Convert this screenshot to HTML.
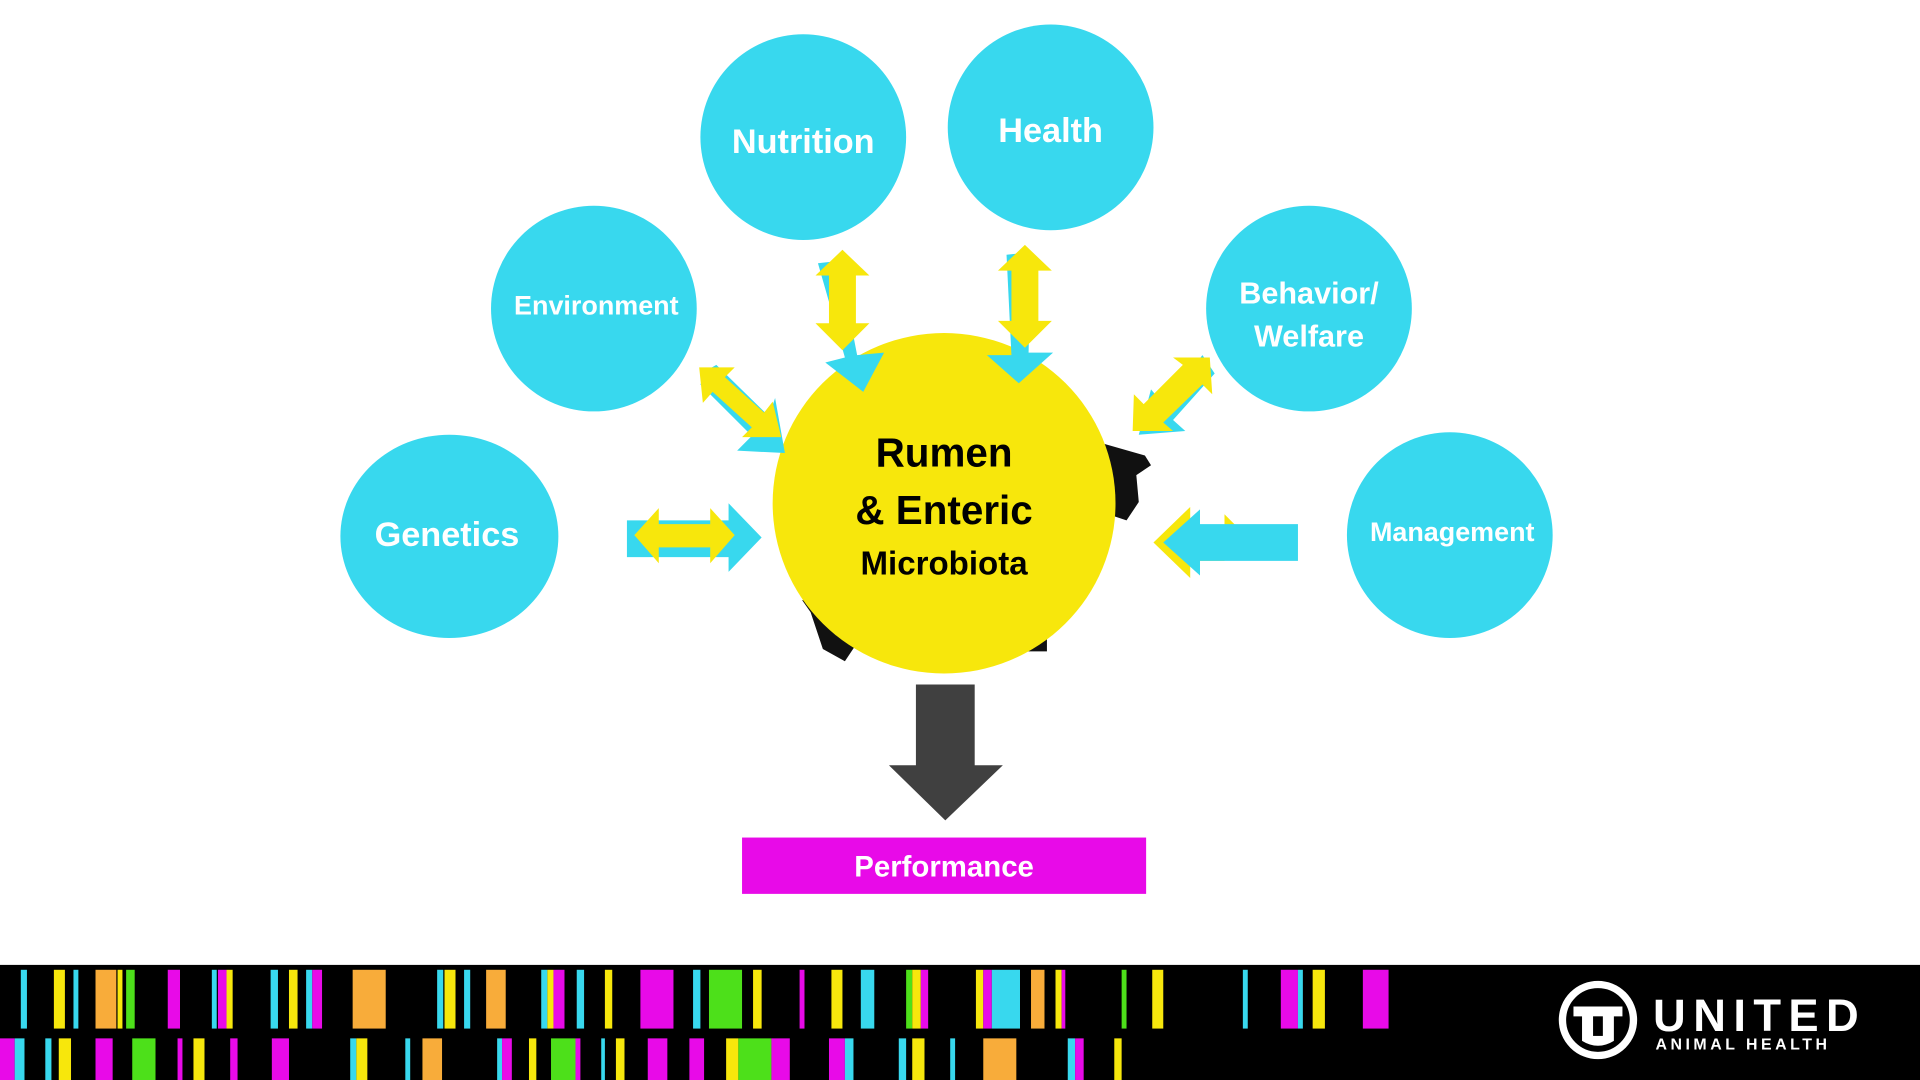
<!DOCTYPE html>
<html><head><meta charset="utf-8"><style>
html,body{margin:0;padding:0;background:#fff;width:1920px;height:1080px;overflow:hidden}
svg{display:block}
text{font-family:"Liberation Sans",sans-serif;font-weight:bold}
</style></head><body>
<svg width="1920" height="1080" viewBox="0 0 1568 882" preserveAspectRatio="none">
<rect width="1568" height="882" fill="#fff"/>
<!-- cow bits -->
<path d="M900 362 L935 372 L940 380 L928 388 L930 410 L920 425 L905 420 Z" fill="#111"/>
<path d="M655 490 L662 500 L672 530 L690 540 L700 525 L690 500 Z" fill="#111"/>
<path d="M830 520 L855 520 L855 532 L830 532Z" fill="#111"/>
<!-- outer circles -->
<g fill="#38d8ee">
<circle cx="656" cy="112" r="84"/>
<circle cx="858" cy="104" r="84"/>
<circle cx="485" cy="252" r="84"/>
<circle cx="1069" cy="252" r="84"/>
<ellipse cx="367" cy="438" rx="89" ry="83"/>
<circle cx="1184" cy="437" r="84"/>
</g>
<g fill="#fff" text-anchor="middle">
<text x="656" y="125" font-size="28">Nutrition</text>
<text x="858" y="116" font-size="28">Health</text>
<text x="487" y="257" font-size="22">Environment</text>
<text x="1069" y="248" font-size="25">Behavior/</text>
<text x="1069" y="283" font-size="25">Welfare</text>
<text x="365" y="446" font-size="28">Genetics</text>
<text x="1186" y="442" font-size="22">Management</text>
</g>
<!-- yellow center -->
<ellipse cx="771" cy="411" rx="140" ry="139" fill="#f7e70c"/>
<g text-anchor="middle" fill="#000">
<text x="771" y="381" font-size="33">Rumen</text>
<text x="771" y="428" font-size="33">&amp; Enteric</text>
<text x="771" y="469" font-size="27">Microbiota</text>
</g>
<!-- arrows: genetics -->
<path d="M512 425 L595 425 L595 411 L622 439 L595 467 L595 455 L512 455Z" fill="#38d8ee"/>
<path d="M518 437 L538 415 L538 428 L580 428 L580 415 L600 437 L580 460 L580 447 L538 447 L538 460Z" fill="#f7e70c"/>
<!-- management -->
<path d="M942 443 L972 414 L972 430 L1000 430 L1000 420 L1012 432 L1000 458 L972 458 L972 472Z" fill="#f7e70c"/>
<path d="M1060 428 L980 428 L980 416 L950 443 L980 470 L980 458 L1060 458Z" fill="#38d8ee"/>
<!-- nutrition -->
<path d="M668 215 L685 213 L700 290 L722 288 L705 320 L674 296 L690 292Z" fill="#38d8ee"/>
<path d="M688 204 L710 225 L699 225 L699 264 L710 264 L688 286 L666 264 L677 264 L677 225 L666 225Z" fill="#f7e70c"/>
<!-- health -->
<path d="M822 208 L842 206 L840 288 L860 288 L832 313 L806 290 L826 290Z" fill="#38d8ee"/>
<path d="M837 200 L859 221 L848 221 L848 262 L859 262 L837 284 L815 262 L826 262 L826 221 L815 221Z" fill="#f7e70c"/>
<!-- environment -->
<path d="M578 302 L585 298 L628 340 L633 325 L641 370 L602 368 L614 356 L572 314Z" fill="#38d8ee"/>
<path d="M571 300 L600 300 L592 308 L624 337 L631 328 L638 357 L606 357 L614 349 L582 320 L574 329Z" fill="#f7e70c"/>
<!-- behavior -->
<path d="M992 305 L982 290 L950 330 L940 318 L930 355 L968 352 L958 343 Z" fill="#38d8ee"/>
<path d="M988 292 L990 322 L982 314 L950 345 L958 352 L925 352 L926 322 L934 330 L966 298 L958 292Z" fill="#f7e70c"/>
<!-- dark arrow -->
<path d="M748 559 L796 559 L796 625 L819 625 L772 670 L726 625 L748 625Z" fill="#404040"/>
<!-- performance -->
<rect x="606" y="684" width="330" height="46" fill="#e80ae8"/>
<text x="771" y="716" font-size="24" fill="#fff" text-anchor="middle">Performance</text>
<!-- bottom bar -->
<rect x="0" y="788" width="1568" height="94" fill="#000"/>
<g>
<rect x="17" y="792" width="5" height="48" fill="#38d8ee"/>
<rect x="44" y="792" width="9" height="48" fill="#f7e70c"/>
<rect x="60" y="792" width="4" height="48" fill="#38d8ee"/>
<rect x="78" y="792" width="17" height="48" fill="#f8ac3a"/>
<rect x="96" y="792" width="4" height="48" fill="#f7e70c"/>
<rect x="103" y="792" width="7" height="48" fill="#4de01a"/>
<rect x="137" y="792" width="10" height="48" fill="#e80ae8"/>
<rect x="173" y="792" width="4" height="48" fill="#38d8ee"/>
<rect x="178" y="792" width="7" height="48" fill="#e80ae8"/>
<rect x="185" y="792" width="5" height="48" fill="#f7e70c"/>
<rect x="221" y="792" width="6" height="48" fill="#38d8ee"/>
<rect x="236" y="792" width="7" height="48" fill="#f7e70c"/>
<rect x="250" y="792" width="5" height="48" fill="#38d8ee"/>
<rect x="255" y="792" width="8" height="48" fill="#e80ae8"/>
<rect x="288" y="792" width="27" height="48" fill="#f8ac3a"/>
<rect x="357" y="792" width="5" height="48" fill="#38d8ee"/>
<rect x="363" y="792" width="9" height="48" fill="#f7e70c"/>
<rect x="379" y="792" width="5" height="48" fill="#38d8ee"/>
<rect x="397" y="792" width="16" height="48" fill="#f8ac3a"/>
<rect x="442" y="792" width="5" height="48" fill="#38d8ee"/>
<rect x="447" y="792" width="5" height="48" fill="#f7e70c"/>
<rect x="452" y="792" width="9" height="48" fill="#e80ae8"/>
<rect x="471" y="792" width="6" height="48" fill="#38d8ee"/>
<rect x="494" y="792" width="6" height="48" fill="#f7e70c"/>
<rect x="523" y="792" width="27" height="48" fill="#e80ae8"/>
<rect x="566" y="792" width="6" height="48" fill="#38d8ee"/>
<rect x="579" y="792" width="27" height="48" fill="#4de01a"/>
<rect x="615" y="792" width="7" height="48" fill="#f7e70c"/>
<rect x="653" y="792" width="4" height="48" fill="#e80ae8"/>
<rect x="679" y="792" width="9" height="48" fill="#f7e70c"/>
<rect x="703" y="792" width="11" height="48" fill="#38d8ee"/>
<rect x="740" y="792" width="5" height="48" fill="#4de01a"/>
<rect x="745" y="792" width="7" height="48" fill="#f7e70c"/>
<rect x="752" y="792" width="6" height="48" fill="#e80ae8"/>
<rect x="797" y="792" width="6" height="48" fill="#f7e70c"/>
<rect x="803" y="792" width="7" height="48" fill="#e80ae8"/>
<rect x="810" y="792" width="23" height="48" fill="#38d8ee"/>
<rect x="842" y="792" width="11" height="48" fill="#f8ac3a"/>
<rect x="862" y="792" width="5" height="48" fill="#f7e70c"/>
<rect x="867" y="792" width="3" height="48" fill="#e80ae8"/>
<rect x="916" y="792" width="4" height="48" fill="#4de01a"/>
<rect x="941" y="792" width="9" height="48" fill="#f7e70c"/>
<rect x="1015" y="792" width="4" height="48" fill="#38d8ee"/>
<rect x="1046" y="792" width="14" height="48" fill="#e80ae8"/>
<rect x="1060" y="792" width="4" height="48" fill="#38d8ee"/>
<rect x="1072" y="792" width="10" height="48" fill="#f7e70c"/>
<rect x="1113" y="792" width="21" height="48" fill="#e80ae8"/>

<rect x="0" y="848" width="12" height="34" fill="#e80ae8"/>
<rect x="12" y="848" width="8" height="34" fill="#38d8ee"/>
<rect x="37" y="848" width="5" height="34" fill="#38d8ee"/>
<rect x="48" y="848" width="10" height="34" fill="#f7e70c"/>
<rect x="78" y="848" width="14" height="34" fill="#e80ae8"/>
<rect x="108" y="848" width="19" height="34" fill="#4de01a"/>
<rect x="145" y="848" width="4" height="34" fill="#e80ae8"/>
<rect x="158" y="848" width="9" height="34" fill="#f7e70c"/>
<rect x="188" y="848" width="6" height="34" fill="#e80ae8"/>
<rect x="222" y="848" width="14" height="34" fill="#e80ae8"/>
<rect x="286" y="848" width="5" height="34" fill="#38d8ee"/>
<rect x="291" y="848" width="9" height="34" fill="#f7e70c"/>
<rect x="331" y="848" width="4" height="34" fill="#38d8ee"/>
<rect x="345" y="848" width="16" height="34" fill="#f8ac3a"/>
<rect x="406" y="848" width="4" height="34" fill="#38d8ee"/>
<rect x="410" y="848" width="8" height="34" fill="#e80ae8"/>
<rect x="432" y="848" width="6" height="34" fill="#f7e70c"/>
<rect x="450" y="848" width="20" height="34" fill="#4de01a"/>
<rect x="470" y="848" width="4" height="34" fill="#e80ae8"/>
<rect x="491" y="848" width="3" height="34" fill="#38d8ee"/>
<rect x="503" y="848" width="7" height="34" fill="#f7e70c"/>
<rect x="529" y="848" width="16" height="34" fill="#e80ae8"/>
<rect x="563" y="848" width="12" height="34" fill="#e80ae8"/>
<rect x="593" y="848" width="10" height="34" fill="#f7e70c"/>
<rect x="603" y="848" width="27" height="34" fill="#4de01a"/>
<rect x="630" y="848" width="15" height="34" fill="#e80ae8"/>
<rect x="677" y="848" width="13" height="34" fill="#e80ae8"/>
<rect x="690" y="848" width="7" height="34" fill="#38d8ee"/>
<rect x="734" y="848" width="6" height="34" fill="#38d8ee"/>
<rect x="745" y="848" width="10" height="34" fill="#f7e70c"/>
<rect x="776" y="848" width="4" height="34" fill="#38d8ee"/>
<rect x="803" y="848" width="27" height="34" fill="#f8ac3a"/>
<rect x="872" y="848" width="6" height="34" fill="#38d8ee"/>
<rect x="878" y="848" width="7" height="34" fill="#e80ae8"/>
<rect x="910" y="848" width="6" height="34" fill="#f7e70c"/>
</g>
<!-- logo -->
<circle cx="1305" cy="833" r="29" fill="none" stroke="#fff" stroke-width="6"/>
<path d="M1285 822 L1325 822 L1325 830 L1318 830 L1318 850 Q1305 858 1292 850 L1292 830 L1285 830Z" fill="#fff"/>
<rect x="1301" y="830" width="8" height="16" fill="#000"/>
<text x="1350" y="842" font-size="37" fill="#fff" textLength="168">UNITED</text>
<text x="1352" y="857" font-size="13" fill="#fff" textLength="140">ANIMAL HEALTH</text>
</svg>
</body></html>
